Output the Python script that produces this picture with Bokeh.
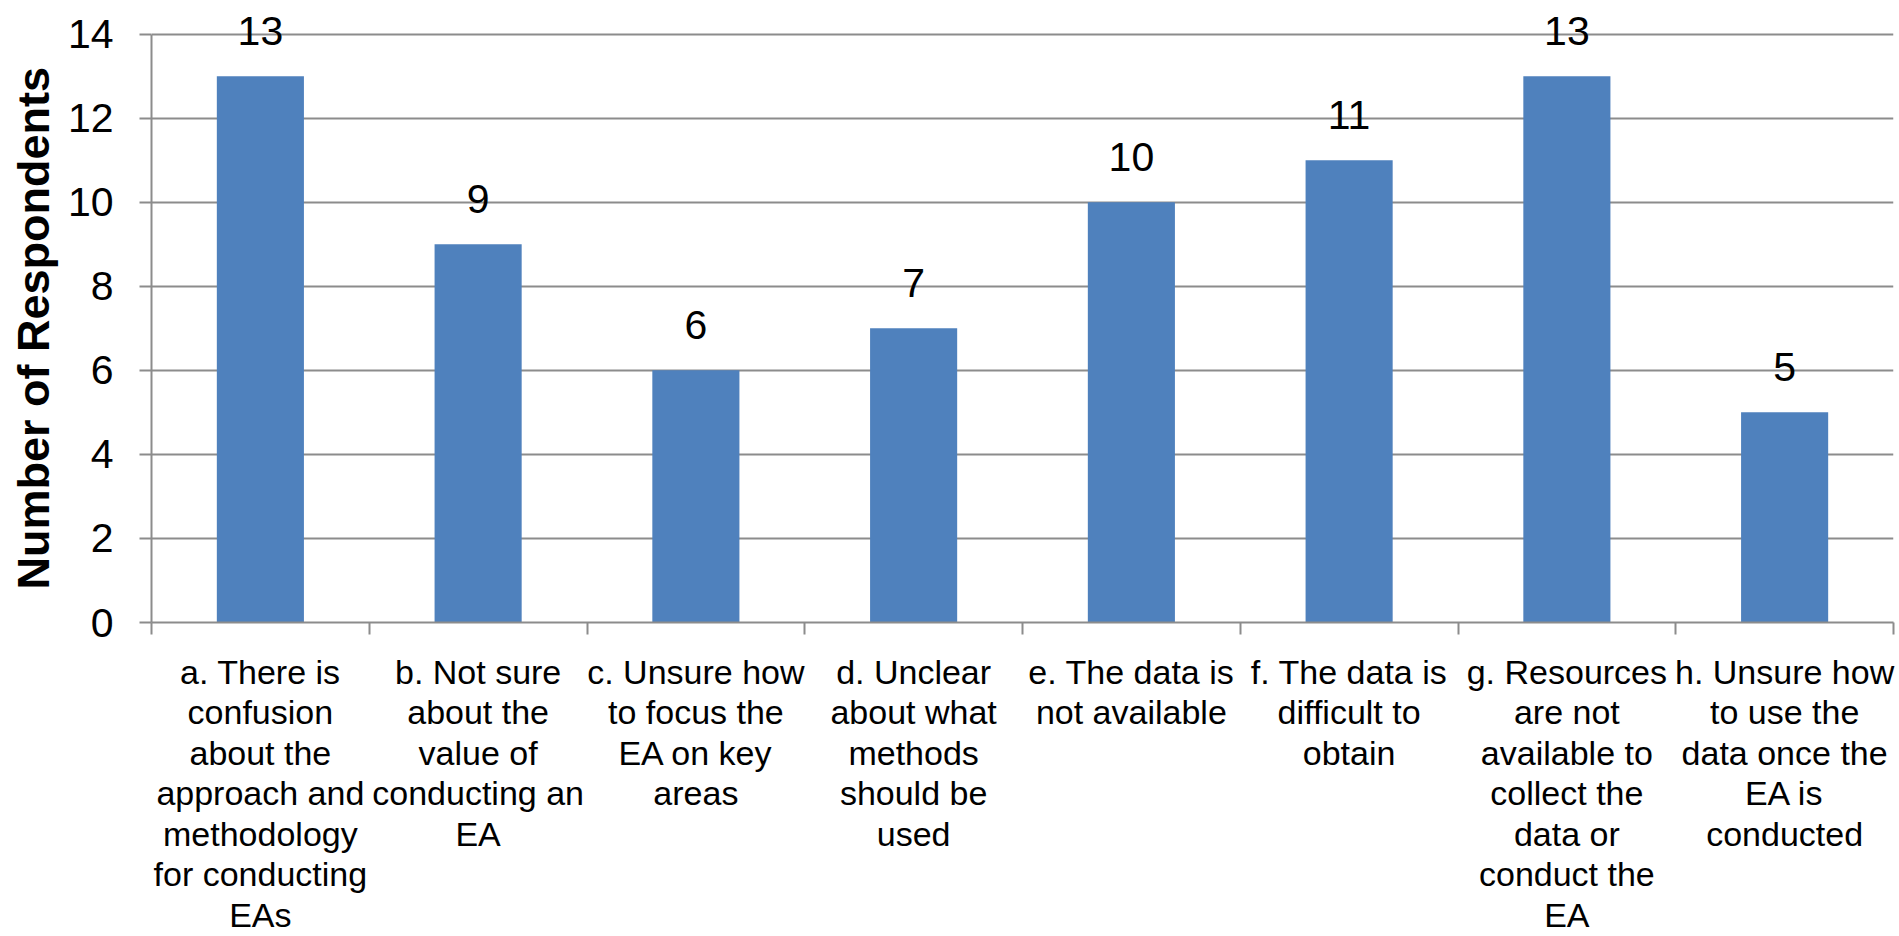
from bokeh.plotting import figure
from bokeh.models import ColumnDataSource, FixedTicker, Label, Range1d, Title
from bokeh.embed import file_html
from bokeh.resources import INLINE
import numpy as np

# Survey results: barriers to conducting an EA
categories = [
    "a. There is\nconfusion\nabout the\napproach and\nmethodology\nfor conducting\nEAs",
    "b. Not sure\nabout the\nvalue of\nconducting an\nEA",
    "c. Unsure how\nto focus the\nEA on key\nareas",
    "d. Unclear\nabout what\nmethods\nshould be\nused",
    "e. The data is\nnot available",
    "f. The data is\ndifficult to\nobtain",
    "g. Resources\nare not\navailable to\ncollect the\ndata or\nconduct the\nEA",
    "h. Unsure how\nto use the\ndata once the\nEA is\nconducted",
]
respondents = [13, 9, 6, 7, 10, 11, 13, 5]
y_ticks = [0, 2, 4, 6, 8, 10, 12, 14]
y_title = "Number of Respondents"

n = len(categories)
centers = np.arange(n) + 0.5
source = ColumnDataSource(dict(x=centers, top=respondents))

GRID = "#8c8c8c"
BAR = "#4f81bd"

# the range runs a little past 14 so the labels of the tallest bars have room;
# the axis line itself stops at 14
p = figure(width=1899, height=936, output_backend="svg", toolbar_location=None,
           x_range=Range1d(0, n), y_range=Range1d(0, 14.8),
           min_border_left=151, min_border_right=6, min_border_top=0,
           min_border_bottom=310)
p.title.visible = False
p.outline_line_color = None
p.background_fill_color = "white"
p.border_fill_color = "white"

p.vbar(x="x", top="top", width=0.4, bottom=0, source=source,
       fill_color=BAR, line_color=None)

# value labels above each bar
for xc, v in zip(centers, respondents):
    p.add_layout(Label(x=float(xc), y=v, text=str(v), text_align="center",
                       text_baseline="alphabetic", y_offset=45,
                       text_font="Liberation Sans", text_font_size="41px",
                       text_color="black"))

# x axis: labels at bar centres, tick marks at category boundaries
xa = p.xaxis[0]
xa.ticker = FixedTicker(ticks=list(centers), minor_ticks=list(range(n + 1)))
xa.major_label_overrides = {float(c): lab for c, lab in zip(centers, categories)}
xa.major_tick_line_color = None
xa.major_tick_out = 0
xa.major_tick_in = 0
xa.minor_tick_out = 12
xa.minor_tick_in = 0
xa.minor_tick_line_color = GRID
xa.minor_tick_line_width = 2
xa.axis_line_color = GRID
xa.axis_line_width = 2
xa.major_label_standoff = 18
xa.major_label_text_font = "Liberation Sans"
xa.major_label_text_font_size = "34px"
xa.major_label_text_color = "black"
xa.major_label_text_line_height = 1.067

# y axis
ya = p.yaxis[0]
ya.ticker = FixedTicker(ticks=y_ticks, minor_ticks=[])
ya.bounds = (0, 14)
ya.major_tick_out = 12
ya.major_tick_in = 0
ya.major_tick_line_color = GRID
ya.major_tick_line_width = 2
ya.minor_tick_line_color = None
ya.axis_line_color = GRID
ya.axis_line_width = 2
ya.major_label_standoff = 26
ya.major_label_text_font = "Liberation Sans"
ya.major_label_text_font_size = "41px"
ya.major_label_text_color = "black"

# y axis title, centred on the 0-14 span of the axis
p.add_layout(Title(text=y_title, align="left", offset=33,
                   vertical_align="middle", standoff=10,
                   text_font="Liberation Sans", text_font_style="bold",
                   text_font_size="45px", text_color="black"), "left")

p.xgrid.grid_line_color = None
p.ygrid.ticker = FixedTicker(ticks=y_ticks)
p.ygrid.grid_line_color = GRID
p.ygrid.grid_line_width = 2

open("out.html", "w").write(file_html(p, INLINE))
